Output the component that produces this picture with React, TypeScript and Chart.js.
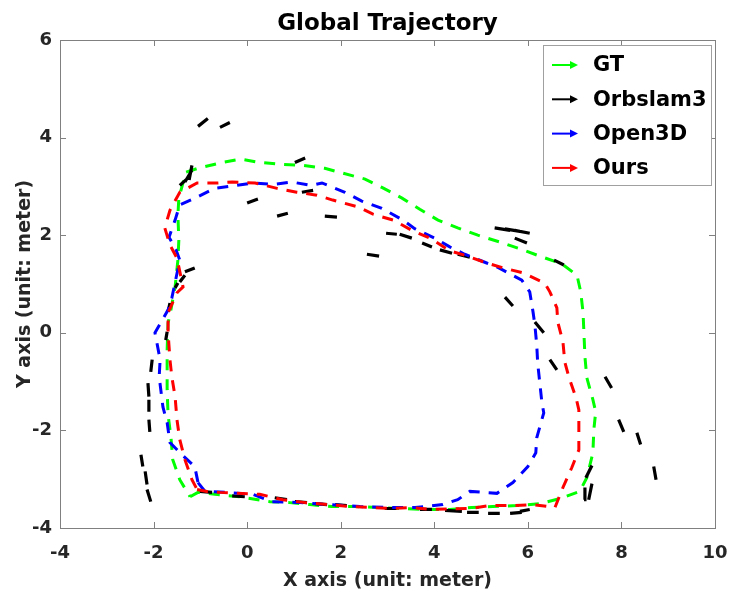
import React, { useEffect, useRef } from "react";
import { Chart, registerables } from "chart.js";

Chart.register(...registerables);

const FONT = "'DejaVu Sans', 'Liberation Sans', Arial, sans-serif";

const titleText = "Global Trajectory";
const xAxisTitle = "X axis (unit: meter)";
const yAxisTitle = "Y axis (unit: meter)";
const xTickValues = [-4, -2, 0, 2, 4, 6, 8, 10];
const yTickValues = [-4, -2, 0, 2, 4, 6];
const seriesLabels = ["GT", "Orbslam3", "Open3D", "Ours"];
const seriesColors = ["#00ff00", "#000000", "#0000ff", "#ff0000"];

const gtX = [-1.22, -1.05, -0.69, -0.15, 0.49, 0.91, 1.34, 1.81, 2.35, 2.77, 3.26, 3.8, 4.33, 4.8, 5.25, 5.77, 6.26, 6.68, 7.11, 7.26, 7.39, 7.41, 7.45, 7.39, 7.26, 7.22, 7.2, 7.18, 7.13, 7.05, 6.73, 6.26, 5.83, 5.4, 4.93, 4.5, 4.08, 3.69, 3.31, 2.88, 2.52, 2.05, 1.66, 1.19, 0.76, 0.27, -0.15, -0.54, -1.05, -1.31, -1.46, -1.48, -1.46, -1.48, -1.54, -1.63, -1.69, -1.71, -1.71, -1.71, -1.69, -1.63, -1.59, -1.44, -1.22];
const gtY = [-3.36, -3.27, -3.31, -3.36, -3.46, -3.48, -3.52, -3.56, -3.56, -3.58, -3.6, -3.62, -3.62, -3.58, -3.56, -3.54, -3.5, -3.4, -3.25, -2.97, -2.46, -1.99, -1.62, -1.37, -0.92, -0.49, -0.04, 0.41, 0.84, 1.18, 1.41, 1.57, 1.72, 1.86, 2.0, 2.15, 2.31, 2.53, 2.76, 2.98, 3.15, 3.27, 3.37, 3.43, 3.45, 3.49, 3.56, 3.49, 3.37, 3.29, 2.76, 2.41, 1.9, 1.49, 0.94, 0.47, 0.2, -0.35, -0.76, -1.17, -1.68, -2.13, -2.6, -3.01, -3.36];

const open3dX = [-1.05, -0.9, -0.47, 0.12, 0.53, 1.13, 1.77, 2.41, 3.05, 3.59, 4.18, 4.5, 4.76, 5.34, 5.68, 6.0, 6.17, 6.19, 6.34, 6.3, 6.26, 6.21, 6.19, 6.15, 6.11, 6.04, 5.87, 5.34, 5.12, 4.65, 4.33, 4.01, 3.59, 3.33, 2.88, 2.45, 2.09, 1.6, 1.36, 0.96, 0.55, 0.12, -0.69, -1.16, -1.44, -1.54, -1.67, -1.52, -1.44, -1.61, -1.69, -1.97, -1.86, -1.88, -1.8, -1.71, -1.65, -1.39, -1.12, -1.05];
const open3dY = [-3.07, -3.25, -3.27, -3.31, -3.46, -3.48, -3.52, -3.56, -3.58, -3.58, -3.52, -3.42, -3.25, -3.29, -3.07, -2.74, -2.46, -2.15, -1.64, -1.43, -1.07, -0.62, -0.25, 0.16, 0.43, 0.84, 1.08, 1.35, 1.43, 1.61, 1.76, 1.94, 2.13, 2.31, 2.55, 2.7, 2.88, 3.07, 3.02, 3.09, 3.04, 3.07, 2.96, 2.74, 2.62, 2.31, 1.96, 1.7, 1.49, 0.71, 0.47, 0.0, -0.55, -0.9, -1.52, -1.84, -2.25, -2.5, -2.74, -3.07];

const oursX = [-1.07, -0.86, -0.58, 0.27, 0.76, 1.24, 1.73, 2.2, 2.69, 3.05, 3.48, 3.95, 4.76, 5.19, 5.68, 6.11, 6.58, 6.75, 6.94, 7.09, 7.09, 7.09, 7.03, 6.88, 6.79, 6.75, 6.64, 6.62, 6.47, 6.36, 5.89, 5.47, 5.12, 4.65, 4.33, 3.95, 3.52, 3.12, 2.69, 2.37, 1.83, 1.49, 1.06, 0.64, 0.17, -0.32, -0.65, -1.07, -1.44, -1.65, -1.76, -1.65, -1.5, -1.37, -1.5, -1.69, -1.69, -1.65, -1.61, -1.54, -1.5, -1.44, -1.33, -1.18, -1.07];
const oursY = [-3.21, -3.25, -3.27, -3.31, -3.42, -3.48, -3.52, -3.56, -3.58, -3.6, -3.58, -3.62, -3.6, -3.54, -3.54, -3.52, -3.58, -3.17, -2.76, -2.4, -1.99, -1.58, -1.33, -0.92, -0.6, -0.19, 0.22, 0.51, 0.84, 1.02, 1.23, 1.33, 1.43, 1.59, 1.68, 1.92, 2.1, 2.31, 2.43, 2.58, 2.72, 2.82, 2.88, 2.96, 3.07, 3.09, 3.07, 3.07, 2.88, 2.51, 2.15, 1.8, 1.53, 0.94, 0.82, 0.41, 0.0, -0.55, -0.9, -1.31, -1.78, -2.19, -2.6, -3.01, -3.21];

// Orbslam3 short arrows: [x start, y start, x end, y end]
const orbSegments = [
  [-1.05, 4.23, -0.84, 4.39],
  [-0.58, 4.21, -0.37, 4.31],
  [-1.44, 3.02, -1.22, 3.21],
  [-1.33, 3.09, -1.18, 3.33],
  [-1.24, 3.13, -1.18, 3.43],
  [1.02, 3.49, 1.24, 3.58],
  [1.17, 2.88, 1.41, 2.92],
  [0.0, 2.66, 0.23, 2.74],
  [0.64, 2.39, 0.87, 2.45],
  [1.66, 2.39, 1.92, 2.37],
  [2.56, 1.61, 2.82, 1.57],
  [2.97, 2.04, 3.2, 2.02],
  [3.26, 2.02, 3.52, 1.94],
  [3.74, 1.84, 3.95, 1.76],
  [4.12, 1.7, 4.38, 1.63],
  [4.5, 1.61, 4.76, 1.55],
  [5.29, 2.15, 5.62, 2.1],
  [5.51, 2.13, 5.83, 2.08],
  [5.72, 2.1, 6.04, 2.04],
  [5.72, 1.94, 5.98, 1.84],
  [6.56, 1.49, 6.77, 1.39],
  [5.51, 0.73, 5.68, 0.55],
  [6.15, 0.22, 6.34, 0.0],
  [6.47, -0.55, 6.62, -0.76],
  [7.65, -0.9, 7.79, -1.13],
  [7.94, -1.78, 8.05, -2.03],
  [8.33, -2.05, 8.41, -2.29],
  [8.69, -2.74, 8.74, -3.01],
  [7.24, -2.97, 7.37, -2.72],
  [7.2, -3.42, 7.22, -3.17],
  [7.3, -3.42, 7.37, -3.09],
  [0.59, -3.38, 0.85, -3.42],
  [1.02, -3.46, 1.28, -3.48],
  [1.45, -3.5, 1.71, -3.52],
  [1.88, -3.52, 2.13, -3.54],
  [2.94, -3.6, 3.2, -3.6],
  [3.69, -3.62, 3.95, -3.62],
  [4.23, -3.64, 4.59, -3.66],
  [4.7, -3.68, 4.95, -3.68],
  [5.15, -3.7, 5.4, -3.7],
  [5.62, -3.7, 5.87, -3.68],
  [5.83, -3.66, 6.04, -3.62],
  [-1.01, -3.25, -0.75, -3.27],
  [-0.32, -3.34, -0.05, -3.36],
  [-1.65, 0.61, -1.69, 0.43],
  [-1.71, 0.02, -1.74, -0.15],
  [-2.03, -0.55, -2.06, -0.8],
  [-2.12, -1.03, -2.1, -1.31],
  [-2.1, -1.37, -2.1, -1.62],
  [-2.1, -1.78, -2.08, -2.03],
  [-2.27, -2.5, -2.23, -2.74],
  [-2.18, -2.84, -2.14, -3.11],
  [-2.14, -3.21, -2.06, -3.46],
  [-1.33, 1.25, -1.12, 1.33],
  [-1.44, 1.04, -1.33, 1.18],
  [-1.54, 0.92, -1.48, 1.02],
];

const toPoints = (xs: number[], ys: number[]) => xs.map((x, i) => ({ x, y: ys[i] }));

const segmentPoints = () => {
  const pts: { x: number; y: number | null }[] = [];
  orbSegments.forEach(([x1, y1, x2, y2]) => {
    pts.push({ x: x1, y: y1 });
    pts.push({ x: x2, y: y2 });
    pts.push({ x: x2, y: null });
  });
  return pts;
};

const axesPlugin = {
  id: "matlabAxes",
  afterDraw(chart: any) {
    const { ctx, chartArea: a, scales } = chart;
    ctx.save();

    // title, centred over the plot area
    ctx.fillStyle = "#000000";
    ctx.font = `bold 23px ${FONT}`;
    ctx.textAlign = "center";
    ctx.textBaseline = "alphabetic";
    ctx.fillText(titleText, (a.left + a.right) / 2, 30);

    ctx.strokeStyle = "#808080";
    ctx.lineWidth = 1;
    ctx.beginPath();
    xTickValues.forEach((v) => {
      const px = Math.round(scales.x.getPixelForValue(v)) + 0.5;
      ctx.moveTo(px, a.bottom);
      ctx.lineTo(px, a.bottom - 6);
      ctx.moveTo(px, a.top);
      ctx.lineTo(px, a.top + 6);
    });
    yTickValues.forEach((v) => {
      const py = Math.round(scales.y.getPixelForValue(v)) + 0.5;
      ctx.moveTo(a.left, py);
      ctx.lineTo(a.left + 6, py);
      ctx.moveTo(a.right, py);
      ctx.lineTo(a.right - 6, py);
    });
    ctx.stroke();
    ctx.strokeRect(
      Math.round(a.left) + 0.5,
      Math.round(a.top) + 0.5,
      Math.round(a.right - a.left),
      Math.round(a.bottom - a.top)
    );

    // legend box
    const lw = 168;
    const lh = 140;
    const lx = Math.round(a.right) - lw - 4;
    const ly = Math.round(a.top) + 5;
    ctx.fillStyle = "#ffffff";
    ctx.fillRect(lx, ly, lw, lh);
    ctx.strokeStyle = "#a0a0a0";
    ctx.strokeRect(lx + 0.5, ly + 0.5, lw, lh);
    seriesLabels.forEach((label, i) => {
      const ry = ly + 20 + i * 34.3;
      const x0 = lx + 9;
      const x1 = lx + 35;
      ctx.strokeStyle = seriesColors[i];
      ctx.fillStyle = seriesColors[i];
      ctx.lineWidth = 2;
      ctx.beginPath();
      ctx.moveTo(x0, ry);
      ctx.lineTo(x1 - 5, ry);
      ctx.stroke();
      ctx.beginPath();
      ctx.moveTo(x1, ry);
      ctx.lineTo(x1 - 8, ry - 4);
      ctx.lineTo(x1 - 8, ry + 4);
      ctx.closePath();
      ctx.fill();
      ctx.fillStyle = "#000000";
      ctx.font = `bold 21px ${FONT}`;
      ctx.textBaseline = "middle";
      ctx.textAlign = "left";
      ctx.fillText(label, lx + 50, ry + 1);
    });
    ctx.restore();
  },
};

export default function App() {
  const ref = useRef<HTMLCanvasElement | null>(null);

  useEffect(() => {
    if (!ref.current) return;
    Chart.defaults.font.family = FONT;
    const dashed = {
      showLine: true,
      pointRadius: 0,
      borderWidth: 3,
      borderDash: [11, 9],
      fill: false,
      tension: 0,
    };
    const chart = new Chart(ref.current, {
      type: "scatter",
      data: {
        datasets: [
          { ...dashed, label: seriesLabels[0], data: toPoints(gtX, gtY), borderColor: seriesColors[0], backgroundColor: seriesColors[0], order: 4 },
          { showLine: true, pointRadius: 0, borderWidth: 3.2, spanGaps: false, label: seriesLabels[1], data: segmentPoints(), borderColor: seriesColors[1], backgroundColor: seriesColors[1], order: 3 },
          { ...dashed, label: seriesLabels[2], data: toPoints(open3dX, open3dY), borderColor: seriesColors[2], backgroundColor: seriesColors[2], order: 2 },
          { ...dashed, label: seriesLabels[3], data: toPoints(oursX, oursY), borderColor: seriesColors[3], backgroundColor: seriesColors[3], order: 1 },
        ] as any,
      },
      options: {
        animation: false,
        responsive: false,
        events: [],
        layout: { padding: { top: 40, right: 18, left: 0, bottom: 0 } },
        plugins: {
          legend: { display: false },
          tooltip: { enabled: false },
          title: { display: false },
        },
        scales: {
          x: {
            type: "linear",
            min: -4,
            max: 10,
            afterBuildTicks: (s: any) => {
              s.ticks = xTickValues.map((v) => ({ value: v }));
            },
            afterFit: (s: any) => {
              s.height = 76;
              s.paddingLeft = 0;
              s.paddingRight = 0;
            },
            grid: { display: false, drawTicks: false, tickLength: 0 },
            border: { display: false },
            ticks: { color: "#262626", padding: 15, font: { size: 18, weight: "bold", family: FONT } },
            title: {
              display: true,
              text: xAxisTitle,
              color: "#262626",
              font: { size: 19, weight: "bold", family: FONT },
              padding: { top: 0, bottom: 12 },
            },
          },
          y: {
            type: "linear",
            min: -4,
            max: 6,
            afterBuildTicks: (s: any) => {
              s.ticks = yTickValues.map((v) => ({ value: v }));
            },
            afterFit: (s: any) => {
              s.width = 60;
              s.paddingTop = 0;
              s.paddingBottom = 0;
            },
            grid: { display: false, drawTicks: false, tickLength: 0 },
            border: { display: false },
            ticks: { color: "#262626", padding: 8, font: { size: 18, weight: "bold", family: FONT } },
            title: {
              display: true,
              text: yAxisTitle,
              color: "#262626",
              font: { size: 19, weight: "bold", family: FONT },
              padding: { top: 13.6, bottom: 0 },
            },
          },
        },
      } as any,
      plugins: [axesPlugin],
    });
    return () => chart.destroy();
  }, []);

  return (
    <div style={{ position: "fixed", left: 0, top: 0, width: 733, height: 604, background: "#ffffff" }}>
      <canvas ref={ref} width={733} height={604} style={{ width: 733, height: 604, display: "block" }} />
    </div>
  );
}
